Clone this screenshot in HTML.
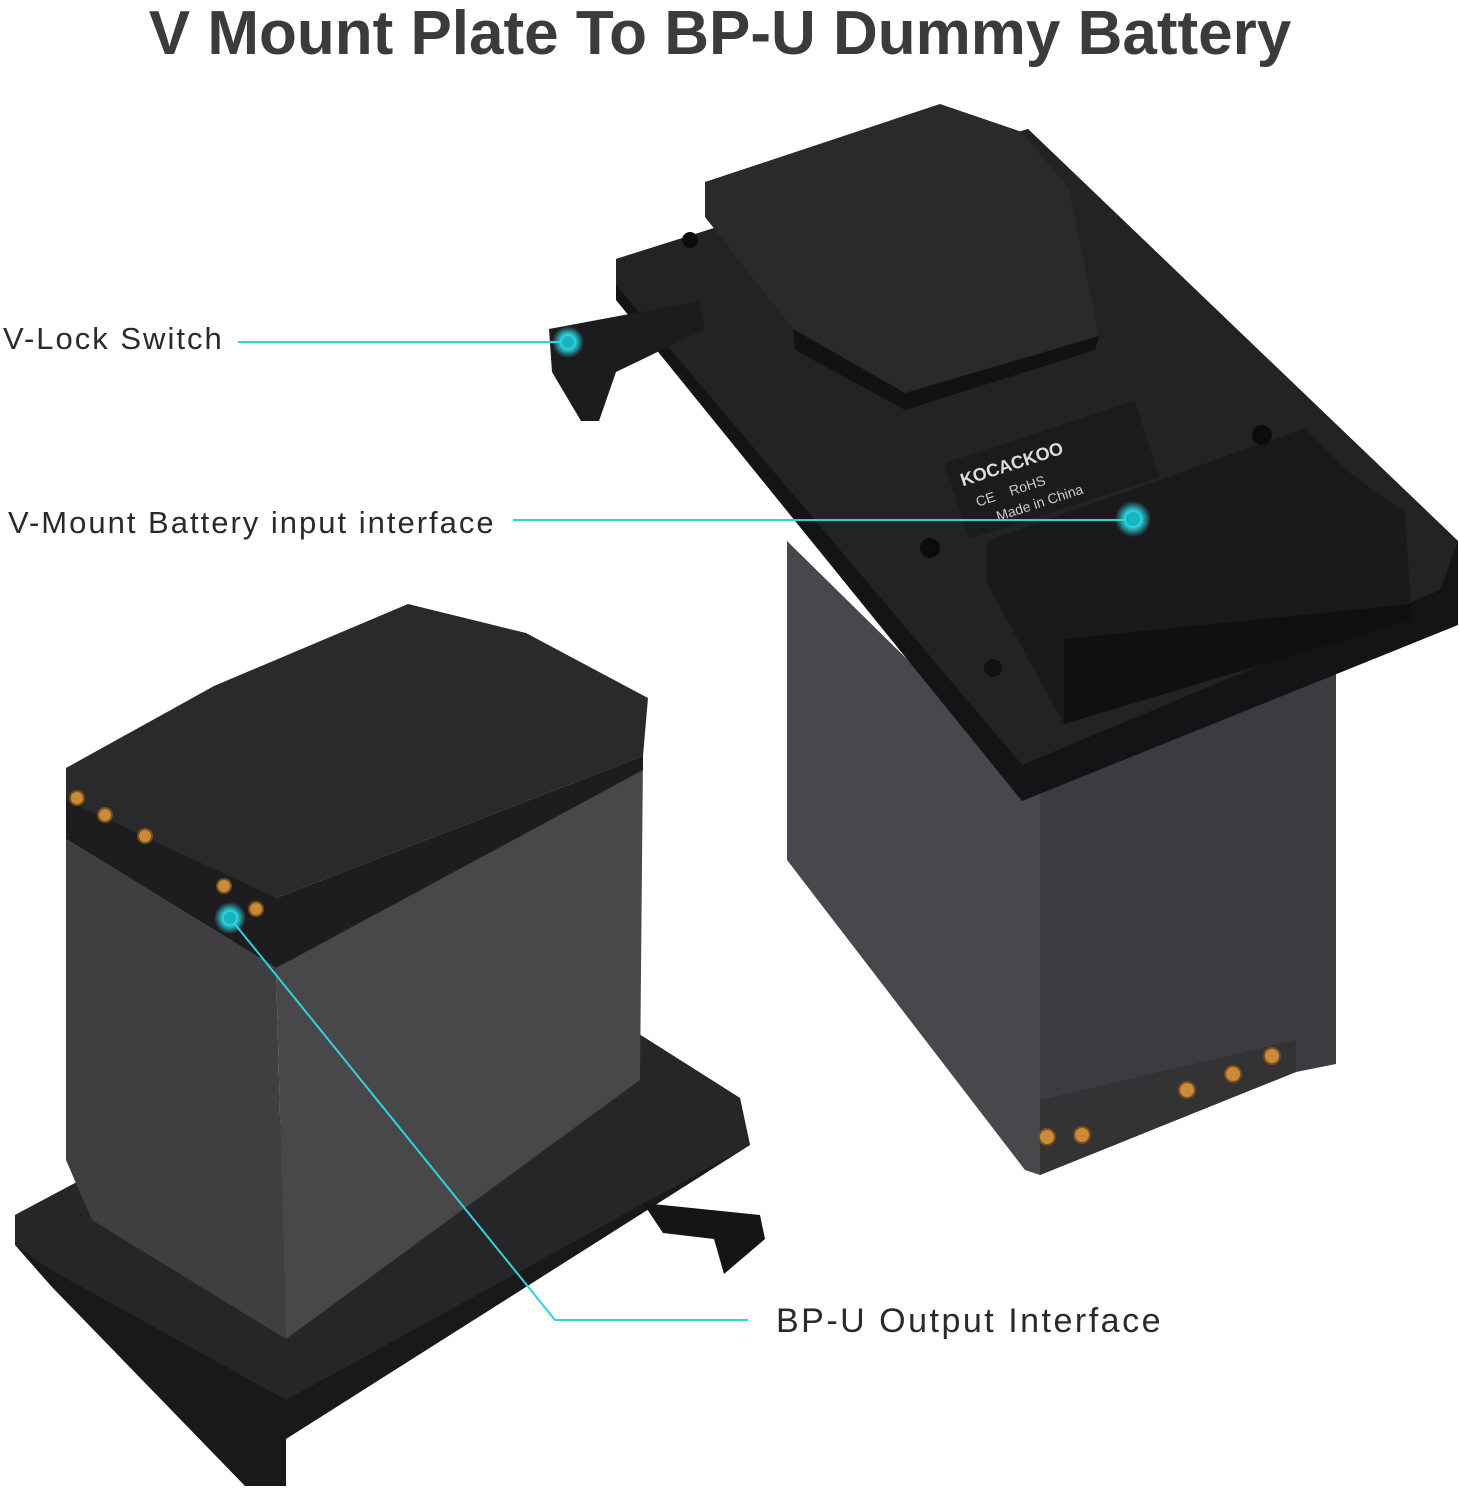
<!DOCTYPE html>
<html><head><meta charset="utf-8"><style>
html,body{margin:0;padding:0;background:#fff;}
svg{display:block}
text{font-family:"Liberation Sans",sans-serif;}
</style></head><body>
<svg width="1459" height="1500" viewBox="0 0 1459 1500" xmlns="http://www.w3.org/2000/svg">
<defs>
<radialGradient id="g"><stop offset="0" stop-color="#1fb7c4"/><stop offset="0.45" stop-color="#2ad6e0"/><stop offset="1" stop-color="#2ad6e0" stop-opacity="0"/></radialGradient>
</defs>
<rect width="1459" height="1500" fill="#fff"/>
<text x="720" y="54" text-anchor="middle" font-size="62" font-weight="bold" fill="#3b3b3b">V Mount Plate To BP-U Dummy Battery</text>

<!-- right device body -->
<polygon points="787,541 1040,790 1040,1175 1025,1170 787,860" fill="#48484c"/>
<polygon points="1040,790 1336,668 1336,1064 1296,1072 1040,1175" fill="#3c3c40"/>
<polygon points="1040,1100 1296,1040 1296,1072 1040,1175" fill="#333336"/>
<!-- plate -->
<polygon points="616,259 1028,129 1458,541 1458,625 1022,801 616,300" fill="#141416"/>
<polygon points="616,259 1028,129 1458,541 1440,590 1022,765 616,285" fill="#232325"/>
<!-- rail -->
<polygon points="987,541 1305,428 1346,470 1405,513 1411,604 1064,639 1064,724 987,583" fill="#1a1a1c"/>
<polygon points="1064,639 1411,604 1411,620 1064,724" fill="#101012"/>
<!-- label -->
<g transform="rotate(-18 1052 470)">
<rect x="952" y="430" width="200" height="80" fill="#1b1b1d"/>
<text x="962" y="458" font-size="18" font-weight="bold" fill="#ddd">KOCACKOO</text>
<text x="970" y="482" font-size="14" fill="#ccc">CE&#160;&#160;&#160;&#160;RoHS</text>
<text x="985" y="502" font-size="14" fill="#ccc">Made in China</text>
</g>
<circle cx="930" cy="548" r="10" fill="#0c0c0c"/>
<circle cx="1262" cy="435" r="10" fill="#0c0c0c"/>
<circle cx="690" cy="240" r="8" fill="#0c0c0c"/>
<circle cx="993" cy="668" r="9" fill="#111"/>
<!-- v mount top -->
<polygon points="705,182 940,104 1022,132 1069,189 1099,336 905,393 793,329 705,217" fill="#2a2a2c"/>
<polygon points="793,329 905,393 1099,336 1095,350 905,410 795,350" fill="#121214"/>
<!-- lock switch -->
<polygon points="549,329 699,301 705,329 616,372 599,421 581,421 552,372" fill="#1c1c1e"/>
<!-- contacts -->
<g fill="#c98a3a" stroke="#7a4d1a" stroke-width="2">
<circle cx="1047" cy="1137" r="8"/><circle cx="1082" cy="1135" r="8"/>
<circle cx="1187" cy="1090" r="8"/><circle cx="1233" cy="1074" r="8"/><circle cx="1272" cy="1056" r="8"/>
</g>

<!-- left device base tray -->
<polygon points="15,1215 92,1174 628,1027 740,1098 750,1145 286,1439 286,1486 245,1486 51,1286 15,1245" fill="#19191b"/>
<polygon points="15,1215 92,1174 628,1027 740,1098 750,1145 286,1400 51,1270 15,1245" fill="#262628"/>
<polygon points="643,1203 760,1215 765,1239 724,1274 714,1239 663,1233" fill="#151517"/>
<!-- battery -->
<polygon points="66,839 276,968 286,1339 92,1220 66,1160" fill="#3f3f42"/>
<polygon points="276,968 643,756 640,1080 286,1339" fill="#48484b"/>
<polygon points="66,768 214,686 408,604 526,633 648,698 643,756 276,898 66,839" fill="#2a2a2c"/>
<polygon points="66,800 276,898 643,756 643,770 276,968 66,839" fill="#1d1d1f"/>
<g fill="#c98a3a" stroke="#7a4d1a" stroke-width="2">
<circle cx="77" cy="798" r="7"/><circle cx="105" cy="815" r="7"/><circle cx="145" cy="836" r="7"/>
<circle cx="224" cy="886" r="7"/><circle cx="256" cy="909" r="7"/>
</g>

<!-- callouts -->
<g stroke="#2fd3dc" stroke-width="2" fill="none">
<line x1="238" y1="342" x2="568" y2="342"/>
<line x1="513" y1="520" x2="1133" y2="520"/>
<polyline points="748,1320 555,1320 230,918"/>
</g>
<circle cx="568" cy="342" r="16" fill="url(#g)"/><circle cx="568" cy="342" r="6" fill="#1ab3c0"/>
<circle cx="1133" cy="519" r="18" fill="url(#g)"/><circle cx="1133" cy="519" r="7" fill="#1ab3c0"/>
<circle cx="230" cy="918" r="16" fill="url(#g)"/><circle cx="230" cy="918" r="6" fill="#1ab3c0"/>

<text x="3" y="349" font-size="31" letter-spacing="2" fill="#2a2a2a">V-Lock Switch</text>
<text x="8" y="533" font-size="31" letter-spacing="2" fill="#2a2a2a">V-Mount Battery input interface</text>
<text x="776" y="1332" font-size="34" letter-spacing="2.5" fill="#2a2a2a">BP-U Output Interface</text>
</svg>
</body></html>
